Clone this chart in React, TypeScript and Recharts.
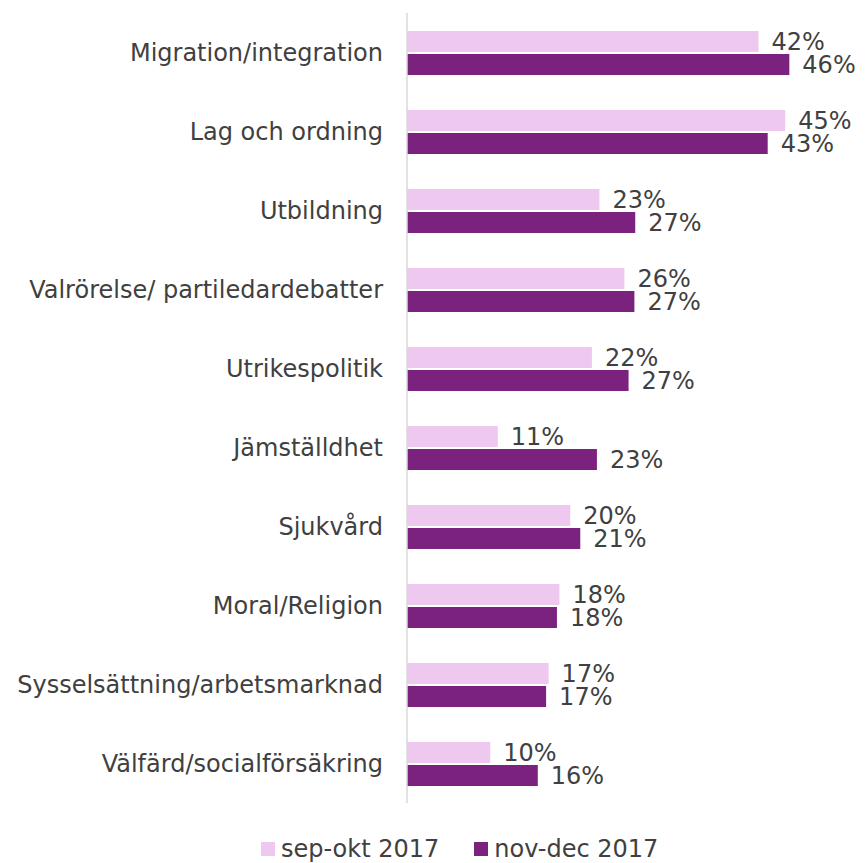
import React from 'react';
import { BarChart, Bar, XAxis, YAxis, LabelList, Legend } from 'recharts';

const categories = [
  'Migration/integration',
  'Lag och ordning',
  'Utbildning',
  'Valrörelse/ partiledardebatter',
  'Utrikespolitik',
  'Jämställdhet',
  'Sjukvård',
  'Moral/Religion',
  'Sysselsättning/arbetsmarknad',
  'Välfärd/socialförsäkring',
];
const sepOkt = [42.2, 45.4, 23.1, 26.1, 22.2, 10.9, 19.6, 18.3, 17.0, 10.0];
const novDec = [45.9, 43.3, 27.4, 27.3, 26.6, 22.8, 20.8, 18.0, 16.7, 15.7];
const seriesNames = ['sep-okt 2017', 'nov-dec 2017'];
const seriesColors = ['#EFC8EF', '#7A227E'];

const data = categories.map((name, i) => ({ name, sep: sepOkt[i], nov: novDec[i] }));

const FONT = '"DejaVu Sans", Verdana, sans-serif';
const TEXT = '#404040';

const fmt = (v: any) => `${Math.round(Number(v))}%`;

const LegendContent = () => (
  <div style={{ display: 'flex', alignItems: 'center', paddingLeft: 261, fontFamily: FONT, fontSize: 24, color: TEXT, lineHeight: '26px' }}>
    {seriesNames.map((n, i) => (
      <div key={n} style={{ display: 'flex', alignItems: 'center', marginRight: i === 0 ? 35 : 0 }}>
        <span style={{ display: 'inline-block', width: 14, height: 14, background: seriesColors[i], marginRight: 6 }} />
        <span>{n}</span>
      </div>
    ))}
  </div>
);

export default function App() {
  return (
    <div style={{ position: 'absolute', left: 0, top: 0, width: 865, height: 863, background: '#fff' }}>
      <BarChart
        width={865}
        height={863}
        data={data}
        layout="vertical"
        margin={{ top: 13, right: 41.5, bottom: 60, left: 0 }}
        barGap={2}
        barSize={21}
      >
        <XAxis type="number" domain={[0, 50]} hide />
        <YAxis
          type="category"
          dataKey="name"
          width={407}
          tickLine={false}
          tickSize={0}
          tickMargin={24}
          axisLine={{ stroke: '#D9D9D9', strokeWidth: 1.5 }}
          tick={{ fill: TEXT, fontSize: 24, fontFamily: FONT }}
          interval={0}
        />
        <Legend
          layout="horizontal"
          verticalAlign="middle"
          align="center"
          content={<LegendContent />}
          wrapperStyle={{ top: 836, left: 0, width: 865, bottom: 'auto' }}
        />
        <Bar dataKey="sep" name={seriesNames[0]} fill={seriesColors[0]} isAnimationActive={false}>
          <LabelList dataKey="sep" position="right" offset={13} formatter={fmt} fill={TEXT} fontSize={24} fontFamily={FONT} />
        </Bar>
        <Bar dataKey="nov" name={seriesNames[1]} fill={seriesColors[1]} isAnimationActive={false}>
          <LabelList dataKey="nov" position="right" offset={13} formatter={fmt} fill={TEXT} fontSize={24} fontFamily={FONT} />
        </Bar>
      </BarChart>
    </div>
  );
}
